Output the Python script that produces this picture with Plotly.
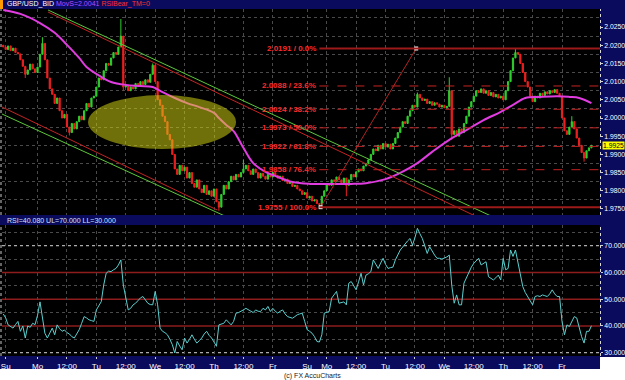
import plotly.graph_objects as go

W, H = 625, 380

# ---------------- data ----------------
close = [
    2.0195, 2.0188, 2.0198, 2.0185, 2.0192, 2.0180, 2.0176, 2.0160, 2.0142, 2.0120,
    2.0132, 2.0148, 2.0135, 2.0125, 2.0140, 2.0175, 2.0205, 2.0160, 2.0110, 2.0080,
    2.0065, 2.0040, 2.0055, 2.0020, 2.0000, 2.0010, 1.9975, 1.9960, 1.9985, 1.9970,
    1.9990, 2.0005, 1.9995, 2.0020, 2.0040, 2.0030, 2.0055, 2.0060, 2.0085, 2.0110,
    2.0105, 2.0130, 2.0150, 2.0145, 2.0165, 2.0180, 2.0175, 2.0195, 2.0225, 2.0085,
    2.0090, 2.0075, 2.0085, 2.0080, 2.0095, 2.0088, 2.0100, 2.0092, 2.0105, 2.0098,
    2.0120, 2.0145, 2.0100, 2.0050, 2.0035, 2.0005, 1.9990, 1.9955, 1.9940, 1.9900,
    1.9860, 1.9845, 1.9870, 1.9855, 1.9865, 1.9835, 1.9850, 1.9820, 1.9810, 1.9830,
    1.9805, 1.9795, 1.9815, 1.9790, 1.9800, 1.9785, 1.9805, 1.9770, 1.9755, 1.9790,
    1.9815, 1.9805, 1.9825, 1.9840, 1.9830, 1.9845, 1.9838, 1.9850, 1.9860, 1.9870,
    1.9855, 1.9845, 1.9860, 1.9850, 1.9835, 1.9848, 1.9840, 1.9832, 1.9845, 1.9838,
    1.9850, 1.9842, 1.9835, 1.9840, 1.9828, 1.9832, 1.9820, 1.9825, 1.9812, 1.9815,
    1.9805, 1.9800, 1.9790, 1.9795, 1.9780, 1.9785, 1.9772, 1.9775, 1.9765, 1.9762,
    1.9785, 1.9800, 1.9820, 1.9815, 1.9830, 1.9825, 1.9838, 1.9830, 1.9822, 1.9835,
    1.9815, 1.9830, 1.9845, 1.9838, 1.9852, 1.9860, 1.9855, 1.9868, 1.9875, 1.9885,
    1.9900, 1.9915, 1.9910, 1.9925, 1.9915, 1.9930, 1.9920, 1.9928, 1.9915, 1.9930,
    1.9945, 1.9960, 1.9975, 1.9990, 1.9985, 2.0005, 2.0020, 2.0035, 2.0030, 2.0065,
    2.0055, 2.0048, 2.0052, 2.0040, 2.0045, 2.0035, 2.0042, 2.0038, 2.0030, 2.0035,
    2.0028, 2.0032, 2.0075, 1.9955, 1.9965, 1.9950, 1.9970, 1.9960, 1.9985, 2.0005,
    2.0030, 2.0045, 2.0060, 2.0075, 2.0070, 2.0080, 2.0068, 2.0075, 2.0062, 2.0070,
    2.0058, 2.0065, 2.0055, 2.0060, 2.0050, 2.0075, 2.0100, 2.0130, 2.0165, 2.0180,
    2.0175, 2.0150, 2.0125, 2.0100, 2.0085, 2.0060, 2.0045, 2.0060, 2.0055, 2.0068,
    2.0062, 2.0072, 2.0066, 2.0075, 2.0070, 2.0078, 2.0068, 2.0060, 2.0000, 1.9965,
    1.9955, 1.9975, 1.9990, 1.9970, 1.9945, 1.9925, 1.9905, 1.9890, 1.9910, 1.9918,
    1.9925,
]
first_open = 2.0200

# notable wick extremes (bar index -> price)
wick_high = {16: 2.0222, 48: 2.0272, 61: 2.0150, 98: 1.9885, 169: 2.0070,
             182: 2.0112, 209: 2.0192, 232: 2.0005}
wick_low = {9: 2.0110, 27: 1.9952, 49: 2.0075, 88: 1.9745, 129: 1.9755,
            140: 1.9785, 183: 1.9940, 237: 1.9880}

rsi = [
    44.5, 43.0, 40.4, 39.8, 39.2, 40.5, 41.7, 38.0, 40.0, 35.5,
    40.0, 39.5, 41.0, 40.5, 44.0, 49.0, 43.0, 37.3, 35.5, 37.5,
    39.2, 36.7, 40.4, 39.0, 38.0, 38.5, 37.5, 37.0, 36.0, 35.5,
    37.0, 38.6, 41.0, 43.5, 43.0, 42.3, 42.0, 41.7, 46.0, 47.5,
    49.1, 55.3, 59.7, 60.5, 60.3, 61.0, 61.5, 62.8, 64.7, 55.3,
    50.0, 46.0, 46.6, 47.9, 48.5, 49.7, 50.5, 51.0, 49.5, 48.5,
    48.0, 47.9, 52.9, 47.9, 39.2, 38.0, 37.5, 36.7, 35.0, 33.0,
    29.9, 34.2, 32.5, 31.1, 35.5, 33.6, 35.0, 36.7, 35.0, 33.6,
    34.5, 35.5, 37.0, 38.0, 36.5, 35.5, 34.0, 32.4, 40.4, 40.8,
    41.0, 42.3, 41.5, 40.4, 41.7, 44.8, 45.0, 45.4, 46.0, 46.6,
    46.0, 45.6, 45.0, 46.0, 45.5, 45.4, 46.6, 46.0, 47.3, 45.4,
    46.6, 45.5, 44.8, 45.5, 46.0, 44.5, 43.5, 43.2, 42.9, 43.5,
    44.2, 44.5, 44.8, 41.7, 38.6, 38.0, 37.3, 36.0, 34.2, 34.0,
    36.7, 44.8, 45.0, 45.4, 50.4, 51.5, 52.9, 48.5, 48.8, 49.0,
    47.9, 56.0, 56.6, 55.0, 53.5, 56.5, 59.7, 55.3, 59.0, 59.5,
    60.3, 64.7, 63.0, 61.5, 63.5, 65.3, 63.0, 61.5, 61.8, 62.0,
    64.7, 66.5, 68.4, 69.5, 70.9, 71.8, 72.7, 70.2, 73.0, 76.5,
    74.5, 72.7, 70.0, 67.1, 69.6, 67.8, 66.5, 65.3, 65.3, 65.0,
    65.3, 65.8, 66.5, 55.3, 48.5, 51.6, 47.9, 47.9, 56.0, 58.0,
    60.3, 62.0, 63.4, 64.5, 65.3, 62.8, 63.5, 64.0, 58.4, 57.8,
    57.2, 58.0, 59.0, 57.2, 65.3, 61.0, 61.5, 68.4, 66.0, 68.4,
    64.0, 60.3, 54.7, 52.5, 51.0, 49.5, 47.9, 51.0, 51.3, 51.0,
    51.6, 51.3, 51.0, 52.0, 53.5, 52.0, 51.0, 51.0, 41.7, 36.7,
    40.4, 39.8, 41.5, 43.5, 43.0, 39.2, 36.0, 33.6, 38.0, 38.0,
    40.08,
]

# moving average readings (bar index, value)
ma_bar = [0, 7, 15, 21, 26, 31, 34, 40, 44, 50, 56, 61, 65, 70, 75, 80, 86, 88, 91, 94,
          98, 102, 107, 112, 118, 125, 135, 142, 148, 156, 162, 169, 175, 182, 189, 196,
          203, 208, 213, 219, 226, 231, 235, 240]
ma_val = [2.0297, 2.0286, 2.0261, 2.0234, 2.0201, 2.0165, 2.0140, 2.0113, 2.0099, 2.0091,
          2.0088, 2.0085, 2.0071, 2.0055, 2.0041, 2.0030, 2.0014, 2.0000, 1.9981, 1.9964,
          1.9918, 1.9876, 1.9852, 1.9838, 1.9824, 1.9819, 1.9819, 1.9819, 1.9821, 1.9832,
          1.9849, 1.9876, 1.9907, 1.9940, 1.9967, 1.9994, 2.0017, 2.0036, 2.0055, 2.0058,
          2.0060, 2.0058, 2.0055, 2.0041]

# drawn channel lines: (bar0, price0, bar1, price1, colour)
trend_lines = [
    (18.3, 2.02967, 199.9, 1.97281, "#5cc83c"),
    (18.3, 2.02912, 193.4, 1.97281, "#c42222"),
    (-0.5, 2.00302, 87.3, 1.97473, "#c42222"),
    (-0.5, 2.00110, 91.3, 1.97281, "#5cc83c"),
]
ellipse_box = (34.6, 95.0, 1.9915, 2.0063)

fib_levels = [2.0191, 2.0088, 2.0024, 1.9973, 1.9922, 1.9858, 1.9755]
fib_pct = ["0.0%", "23.6%", "38.2%", "50.0%", "61.8%", "76.4%", "100.0%"]
fib_anchor_bar = [129.5, 168.5]
fib_anchor_val = [1.9755, 2.0191]
fib_start_bar = 129.0

tick_bars = [1, 14, 26, 38, 50, 62, 74, 86, 98, 110, 124, 132, 144, 156, 168, 180, 192, 204, 216, 228]
tick_text = ["Su", "Mo", "12:00", "Tu", "12:00", "We", "12:00", "Th", "12:00", "Fr",
             "Su", "Mo", "12:00", "Tu", "12:00", "We", "12:00", "Th", "12:00", "Fr"]

price_ticks = [2.0250, 2.0200, 2.0150, 2.0100, 2.0050, 2.0000, 1.9950, 1.9900, 1.9850, 1.9800, 1.9750]
price_grid = [2.0275, 2.0225, 2.0175, 2.0125, 2.0075, 2.0025, 1.9975, 1.9925, 1.9875, 1.9825, 1.9775]
rsi_ticks = [30, 40, 50, 60, 70]
rsi_grid = [35, 45, 55, 65, 75]
rsi_red_levels = [40, 50, 60]
rsi_limits = [30, 70]
last_price = 1.9925
ma_last = 2.0041
rsi_last = 40.080

# ---------------- derived OHLC ----------------
n = len(close)
bars = list(range(n))
opens = [first_open] + close[:-1]
highs = [max(o, c) for o, c in zip(opens, close)]
lows = [min(o, c) for o, c in zip(opens, close)]
for b, v in wick_high.items():
    highs[b] = max(highs[b], v)
for b, v in wick_low.items():
    lows[b] = min(lows[b], v)


def px(x):
    return x / W


def py(y):
    return 1 - y / H


NAVY = "#0b0b5e"
GRID = "#4a4a4a"
FONT = "Liberation Sans"

fig = go.Figure()

fig.add_trace(go.Candlestick(
    x=bars, open=opens, high=highs, low=lows, close=close,
    increasing=dict(line=dict(color="#2ed02e", width=1), fillcolor="#2ed02e"),
    decreasing=dict(line=dict(color="#f02020", width=1), fillcolor="#f02020"),
    whiskerwidth=0, xaxis="x", yaxis="y", showlegend=False, hoverinfo="skip"))

fig.add_trace(go.Scatter(
    x=ma_bar, y=ma_val, mode="lines", line=dict(color="#e03ce0", width=2, shape="spline"),
    xaxis="x", yaxis="y", showlegend=False, hoverinfo="skip"))

for b0, p0, b1, p1, col in trend_lines:
    fig.add_trace(go.Scatter(
        x=[b0, b1], y=[p0, p1], mode="lines", line=dict(color=col, width=1),
        xaxis="x", yaxis="y", showlegend=False, hoverinfo="skip"))

fig.add_trace(go.Scatter(
    x=fib_anchor_bar, y=fib_anchor_val, mode="lines+markers",
    line=dict(color="#b02424", width=1),
    marker=dict(symbol="square", size=4, color="#f0f0f0", line=dict(width=0)),
    xaxis="x", yaxis="y", showlegend=False, hoverinfo="skip"))

fig.add_trace(go.Scatter(
    x=bars, y=rsi, mode="lines", line=dict(color="#5ccfcf", width=1),
    xaxis="x2", yaxis="y2", showlegend=False, hoverinfo="skip"))

shapes = []
# frame pieces (paper coordinates)
shapes.append(dict(type="rect", xref="paper", yref="paper", x0=0, x1=1, y0=0, y1=py(369),
                   fillcolor="white", line=dict(width=0), layer="below"))
shapes.append(dict(type="rect", xref="paper", yref="paper", x0=px(600), x1=1, y0=py(369), y1=py(357),
                   fillcolor="white", line=dict(width=0), layer="below"))
shapes.append(dict(type="rect", xref="paper", yref="paper", x0=0, x1=px(2), y0=py(215), y1=py(9),
                   fillcolor="black", line=dict(width=0), layer="below"))
shapes.append(dict(type="rect", xref="paper", yref="paper", x0=0, x1=px(2), y0=py(356), y1=py(225),
                   fillcolor="black", line=dict(width=0), layer="below"))
shapes.append(dict(type="rect", xref="paper", yref="paper", x0=0, x1=px(3), y0=py(9), y1=1,
                   fillcolor="#ff9a00", line=dict(width=0), layer="above"))
# axis lines
for y0, y1 in [(9, 215), (225, 356)]:
    shapes.append(dict(type="line", xref="paper", yref="paper", x0=px(600.5), x1=px(600.5),
                       y0=py(y1), y1=py(y0), line=dict(color="#d8d8d8", width=1, dash="dot")))
    shapes.append(dict(type="line", xref="paper", yref="paper", x0=px(1), x1=px(1),
                       y0=py(y1), y1=py(y0), line=dict(color="#c8c8c8", width=1, dash="dot")))

# ellipse highlight
ex0, ex1, ey0, ey1 = ellipse_box
shapes.append(dict(type="circle", xref="x", yref="y", x0=ex0, x1=ex1, y0=ey0, y1=ey1,
                   fillcolor="rgba(215,215,20,0.52)", line=dict(width=0), layer="above"))

# fibonacci levels
for i, lv in enumerate(fib_levels):
    solid = i == 0 or i == len(fib_levels) - 1
    shapes.append(dict(type="line", xref="x", yref="y", x0=fib_start_bar, x1=243.5, y0=lv, y1=lv,
                       line=dict(color="#9c1a1a" if solid else "#c42222",
                                 width=2 if solid else 1,
                                 dash="solid" if solid else "dash")))

# RSI reference levels
for lv in rsi_red_levels:
    shapes.append(dict(type="line", xref="x2", yref="y2", x0=-0.5, x1=243.5, y0=lv, y1=lv,
                       line=dict(color="#8e1c1c", width=1.5), layer="below"))
for lv in rsi_limits:
    shapes.append(dict(type="line", xref="x2", yref="y2", x0=-0.5, x1=243.5, y0=lv, y1=lv,
                       line=dict(color="#d8d8d8", width=1, dash="dot"), layer="below"))

annotations = []
annotations.append(dict(
    xref="paper", yref="paper", x=px(5), y=py(4.5), xanchor="left", yanchor="middle",
    showarrow=False,
    text=("<span style='color:#ffffff'>GBP/USD_BID</span> "
          f"<span style='color:#b44cff'>MovS={ma_last:.4f}</span> "
          "<span style='color:#ff3030'>RSIBear_TM=0</span>"),
    font=dict(family=FONT, size=7)))
annotations.append(dict(
    xref="paper", yref="paper", x=px(5), y=py(220), xanchor="left", yanchor="middle",
    showarrow=False, text=f"RSI={rsi_last:.3f} UL=70.000 LL=30.000",
    font=dict(family=FONT, size=7, color="#cfe6ff")))
annotations.append(dict(
    xref="paper", yref="paper", x=0.5, y=py(375.5), xanchor="center", yanchor="middle",
    showarrow=False, text="(c) FX AccuCharts",
    font=dict(family=FONT, size=7, color="#222222")))
annotations.append(dict(
    xref="paper", yref="y", x=px(602), y=last_price, xanchor="left", yanchor="middle",
    showarrow=False, text=f"{last_price:.4f}", bgcolor="#ffff00", borderpad=0,
    font=dict(family=FONT, size=6.8, color="black")))
for lv, pc in zip(fib_levels, fib_pct):
    annotations.append(dict(
        xref="x", yref="y", x=fib_start_bar - 0.6, y=lv, xanchor="right", yanchor="middle",
        showarrow=False, text=f"<b>{lv:.4f} / {pc}</b>",
        font=dict(family=FONT, size=8, color="#ff2a2a")))

xcommon = dict(range=[-0.5, 243.5], domain=[px(2), px(600)], tickmode="array",
               tickvals=tick_bars, showgrid=True, gridcolor=GRID, griddash="dot", gridwidth=1,
               zeroline=False, showline=False, fixedrange=True, automargin=False)

yfont = dict(family=FONT, size=6.8, color="white")

fig.update_layout(
    width=W, height=H, margin=dict(l=0, r=0, t=0, b=0),
    paper_bgcolor=NAVY, plot_bgcolor="black",
    xaxis=dict(**xcommon, anchor="y", showticklabels=False, ticks="",
               rangeslider=dict(visible=False)),
    xaxis2=dict(**xcommon, anchor="y2", ticktext=tick_text, ticks="outside", ticklen=2,
                tickcolor="#d0d0d0", tickfont=dict(family=FONT, size=8, color="white")),
    yaxis=dict(domain=[py(215), py(9)], range=[1.97335, 2.02995], side="right", anchor="x",
               tickmode="array", tickvals=price_ticks, ticktext=[f"{v:.4f}" for v in price_ticks],
               tickfont=yfont, ticks="outside", ticklen=2,
               tickcolor="#d0d0d0", showgrid=False, zeroline=False, automargin=False, fixedrange=True,
               minor=dict(tickmode="array", tickvals=price_grid, showgrid=True, gridcolor=GRID,
                          griddash="dot", gridwidth=1, ticks="")),
    yaxis2=dict(domain=[py(356), py(225)], range=[28.77, 77.74], side="right", anchor="x2",
                tickmode="array", tickvals=rsi_ticks, ticktext=[f"{v:.3f}" for v in rsi_ticks],
                tickfont=yfont, ticks="outside", ticklen=2,
                tickcolor="#d0d0d0", showgrid=False, zeroline=False, automargin=False, fixedrange=True,
                minor=dict(tickmode="array", tickvals=rsi_grid, showgrid=True, gridcolor=GRID,
                           griddash="dot", gridwidth=1, ticks="")),
    shapes=shapes, annotations=annotations, showlegend=False,
)

fig.write_html("out.html", config=dict(displayModeBar=False))
